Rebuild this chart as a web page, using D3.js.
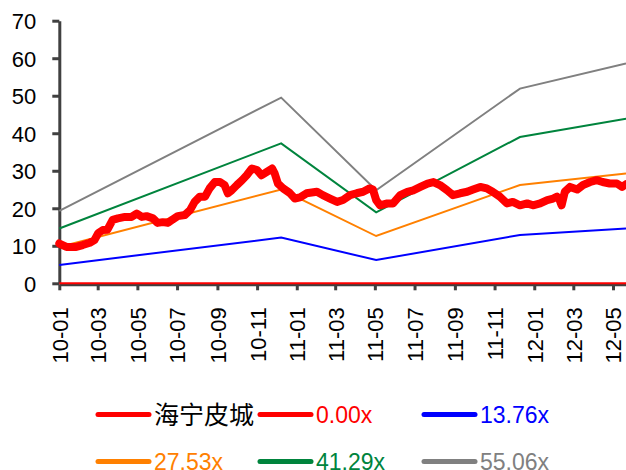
<!DOCTYPE html>
<html>
<head>
<meta charset="utf-8">
<script src="https://cdn.jsdelivr.net/npm/d3@7"></script>
<style>
  body { margin: 0; background: #fff; }
  svg { display: block; }
  .axis text { font-family: "Liberation Sans", Arial, sans-serif; font-size: 22px; fill: #000; }
  .axis path, .axis line { stroke: #404040; stroke-width: 3; }
  .legend text { font-family: "Liberation Sans", Arial, sans-serif; font-size: 23px; }
</style>
</head>
<body>
<div id="box-div"></div>
<script>
// price of 海宁皮城 (roughly weekly)
const priceDates = ['2010-01-01','2010-01-12','2010-01-27','2010-02-06','2010-02-17','2010-02-24','2010-03-02','2010-03-09',
  '2010-03-16','2010-03-24','2010-04-01','2010-04-12','2010-04-22','2010-04-30','2010-05-08','2010-05-15','2010-05-25',
  '2010-06-01','2010-06-09','2010-06-17','2010-06-24','2010-07-02','2010-07-13','2010-07-21','2010-07-28','2010-08-05',
  '2010-08-13','2010-08-20','2010-08-28','2010-09-05','2010-09-12','2010-09-17','2010-09-23','2010-10-01','2010-10-09',
  '2010-10-16','2010-10-24','2010-11-01','2010-11-08','2010-11-16','2010-11-24','2010-11-28','2010-12-03','2010-12-11',
  '2010-12-21','2010-12-29','2011-01-06','2011-01-16','2011-02-01','2011-02-10','2011-02-21','2011-03-04','2011-03-13',
  '2011-03-24','2011-04-03','2011-04-13','2011-04-23','2011-04-28','2011-05-03','2011-05-09','2011-05-20','2011-05-29',
  '2011-06-09','2011-06-20','2011-06-29','2011-07-10','2011-07-21','2011-07-30','2011-08-09','2011-08-20','2011-08-29',
  '2011-09-09','2011-09-20','2011-09-29','2011-10-10','2011-10-20','2011-10-29','2011-11-09','2011-11-20','2011-11-29',
  '2011-12-10','2011-12-21','2011-12-30','2012-01-10','2012-01-21','2012-01-30','2012-02-05','2012-02-09','2012-02-12',
  '2012-02-17','2012-02-25','2012-03-07','2012-03-16','2012-03-27','2012-04-06','2012-04-15','2012-04-26','2012-05-07',
  '2012-05-15','2012-05-21'];
const priceValues = [10.6,9.7,9.7,10.2,10.8,11.5,13.4,14.2,
  14.3,16.9,17.3,17.7,17.7,18.6,17.7,17.9,17.3,
  16.1,16.3,16.1,17.0,17.9,18.2,19.5,21.7,23.1,
  23.1,25.3,27.0,27.0,26.2,24.0,24.8,26.2,27.5,
  28.8,30.6,30.2,28.8,29.7,30.6,29.3,26.6,25.3,
  24.1,22.6,22.9,24.0,24.4,23.5,22.6,21.7,22.2,
  23.5,24.0,24.4,25.3,25.0,22.2,20.8,21.3,21.3,
  23.5,24.4,24.8,25.7,26.6,27.0,26.2,24.8,23.5,
  24.0,24.4,25.0,25.7,25.3,24.4,23.1,21.3,21.7,
  20.8,21.3,20.8,21.3,22.2,22.6,23.1,22.2,20.8,
  24.4,25.7,25.0,26.2,27.0,27.5,27.0,26.6,26.6,
  25.7,26.4];

// PE band lines
const bandDates = ['2010-01-01','2010-12-08','2011-05-03','2011-12-10','2012-05-21'];
const band000 = [0, 0, 0, 0, 0];
const band1376 = [4.9, 12.2, 6.2, 12.9, 14.6];
const band2753 = [9.7, 25.0, 12.6, 26.2, 29.3];
const band4129 = [14.6, 37.3, 18.9, 39.0, 43.9];
const band5506 = [19.3, 49.5, 24.8, 51.9, 58.6];

const seriesNames = ['海宁皮城', '0.00x', '13.76x', '27.53x', '41.29x', '55.06x'];
const seriesColors = ['#ff0000', '#ff0000', '#0000ff', '#ff8000', '#00843d', '#808080'];
const yTicks = [0, 10, 20, 30, 40, 50, 60, 70];

const dms = {
    width: 626,
    height: 470,
    margin: { top: 20.7, right: 0, bottom: 186.7, left: 59.3 }
};
//"dms" for dimensions
dms.contentWidth = dms.width - dms.margin.left - dms.margin.right;
dms.contentHeight = dms.height - dms.margin.top - dms.margin.bottom;

const parseDate = d3.timeParse('%Y-%m-%d');

const box = d3.select('#box-div').append('svg')
    .attr('width', dms.width)
    .attr('height', dms.height);

const xScale = d3.scaleTime()
    .domain([parseDate('2010-01-01'), parseDate('2012-05-21')])
    .range([dms.margin.left, dms.width - dms.margin.right]);

const yScale = d3.scaleLinear()
    .domain([0, 70])
    .range([dms.margin.top + dms.contentHeight, dms.margin.top]);

// axes first, lines sit on top
const yAxis = box.append('g')
    .attr('class', 'axis')
    .attr('transform', `translate(${dms.margin.left},0)`)
    .call(d3.axisLeft(yScale).tickValues(yTicks).tickSize(7).tickSizeOuter(0).tickPadding(16).tickFormat(d3.format('d')));
yAxis.selectAll('text').attr('dy', '0.36em');

const xAxis = box.append('g')
    .attr('class', 'axis')
    .attr('transform', `translate(0,${yScale(0) + 1})`)
    .call(d3.axisBottom(xScale).ticks(d3.timeMonth.every(2)).tickSize(6).tickSizeOuter(0).tickFormat(d3.timeFormat('%y-%m')));
xAxis.selectAll('text')
    .attr('text-anchor', 'end')
    .attr('transform', 'translate(0,23) rotate(-90)')
    .attr('x', 0)
    .attr('y', 0)
    .attr('dy', '0.36em');

const lineGen = d3.line()
    .x(d => xScale(d[0]))
    .y(d => yScale(d[1]));

const bands = [band000, band1376, band2753, band4129, band5506];
const lines = box.append('g').attr('id', 'lines');

bands.forEach((b, i) => {
    const pts = bandDates.map((d, j) => [parseDate(d), b[j]]);
    lines.append('path')
        .attr('d', lineGen(pts))
        .attr('fill', 'none')
        .attr('stroke', seriesColors[i + 1])
        .attr('stroke-width', 2);
});

const pricePts = priceDates.map((d, j) => [parseDate(d), priceValues[j]]);
lines.append('path')
    .attr('d', lineGen(pricePts))
    .attr('fill', 'none')
    .attr('stroke', seriesColors[0])
    .attr('stroke-width', 8)
    .attr('stroke-linejoin', 'round')
    .attr('stroke-linecap', 'round');

// legend, 3 per row
const legend = box.append('g').attr('class', 'legend');
const colX = [98, 260, 424];
const rowY = [414.5, 461.5];
seriesNames.forEach((name, i) => {
    const cx = colX[i % 3];
    const cy = rowY[Math.floor(i / 3)];
    legend.append('line')
        .attr('x1', cx).attr('x2', cx + 51)
        .attr('y1', cy).attr('y2', cy)
        .attr('stroke', seriesColors[i])
        .attr('stroke-width', 5)
        .attr('stroke-linecap', 'round');
    legend.append('text')
        .attr('x', cx + 56)
        .attr('y', cy)
        .attr('dy', '0.36em')
        .attr('fill', i == 0 ? '#000' : seriesColors[i])
        .style('font-family', i == 0 ? '"Noto Sans CJK SC", sans-serif' : null)
        .style('font-size', i == 0 ? '25px' : null)
        .text(name);
});
</script>
</body>
</html>
